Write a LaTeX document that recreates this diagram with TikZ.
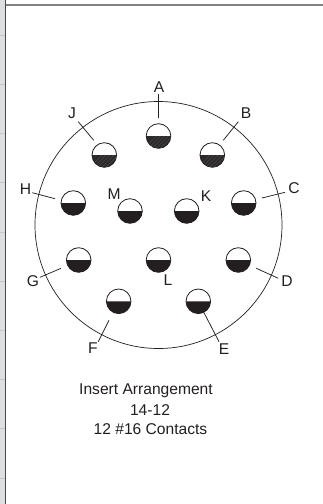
\documentclass[tikz,border=0pt]{standalone}
\usepackage{fontspec}
\setmainfont{Liberation Sans}
\definecolor{ink}{HTML}{231F20}
\definecolor{hatchink}{HTML}{2B292A}
\definecolor{hatchline}{HTML}{4A4849}
\definecolor{sidebar}{HTML}{DDDEE0}
\definecolor{sidetick}{HTML}{C6C7CA}
\definecolor{framegray}{HTML}{808285}
\definecolor{framedark}{HTML}{47484A}
\tikzset{
  lead/.style={draw=ink,line width=0.75pt},
  lab/.style={text=ink,font=\fontsize{15.6}{18}\selectfont,inner sep=0pt,anchor=center},
  note/.style={text=ink,font=\fontsize{15.6}{18}\selectfont,inner sep=0pt,anchor=center}
}
\newcommand{\contact}[4]{%
  \coordinate (#1) at (#2,#3);
  \fill[#4] ([xshift=-12.3pt]#1) arc[start angle=180,end angle=360,radius=12.3pt] -- cycle;
  \draw[ink,line width=0.8pt] (#1) circle[radius=12.3pt];
}
\newcommand{\hatched}[1]{%
  \begin{scope}
    \clip ([xshift=-12.3pt]#1) arc[start angle=180,end angle=360,radius=12.3pt] -- cycle;
    \foreach \d in {-16,-12,...,16}
      \draw[hatchline,line width=0.5pt] ([xshift=\d pt,yshift=-14pt]#1) -- ([xshift=\d pt + 14pt,yshift=0pt]#1);
  \end{scope}%
}
\begin{document}
\begin{tikzpicture}[x=1pt,y=-1pt]
\useasboundingbox (0,0) rectangle (323,504);
\fill[white] (0,0) rectangle (323,504);
\fill[sidebar] (0,0) rectangle (5,504);
\foreach \t in {35,84,133,182,232,281,330,379,428,478}
  \draw[sidetick,line width=0.6pt] (0,\t) -- (5,\t);
\draw[framegray,line width=1.5pt] (5,4.8) -- (323,4.8);
\draw[framedark,line width=1.3pt] (5.5,0) -- (5.5,504);
\draw[ink,line width=0.7pt] (158.5,225) circle[radius=123.5];
\contact{pA}{158.5}{136}{hatchink}
\contact{pJ}{104.3}{155}{hatchink}
\contact{pB}{212.3}{155}{hatchink}
\hatched{pA}\hatched{pJ}\hatched{pB}
\contact{pH}{73.3}{203}{ink}
\contact{pM}{130}{211}{ink}
\contact{pK}{186.7}{211}{ink}
\contact{pC}{243.7}{203}{ink}
\contact{pG}{78.7}{260}{ink}
\contact{pL}{158.5}{260}{ink}
\contact{pD}{238.3}{260}{ink}
\contact{pF}{118.7}{301.3}{ink}
\contact{pE}{198.3}{301.3}{ink}
\node[lab] (lA) at (159,87) {A};
\node[lab] (lJ) at (72,113) {J};
\node[lab] (lB) at (246,113) {B};
\node[lab] (lH) at (25.5,189) {H};
\node[lab] (lM) at (114,194) {M};
\node[lab] (lK) at (206,196) {K};
\node[lab] (lC) at (294,188) {C};
\node[lab] (lG) at (33,281) {G};
\node[lab] (lL) at (168,280) {L};
\node[lab] (lD) at (287,281) {D};
\node[lab] (lF) at (93,348) {F};
\node[lab] (lE) at (224,349) {E};
\coordinate (aA) at (158.5,94); \coordinate (bA) at (158.5,118);
\coordinate (aJ) at (78.3,121.7); \coordinate (bJ) at (93.7,140.3);
\coordinate (aB) at (238.3,121.7); \coordinate (bB) at (223.3,140.3);
\coordinate (aH) at (32.3,192.7); \coordinate (bH) at (55,198.7);
\coordinate (aC) at (285,192.3); \coordinate (bC) at (262,198);
\coordinate (aG) at (40,277.3); \coordinate (bG) at (61,268.3);
\coordinate (aD) at (278.3,278.3); \coordinate (bD) at (256.3,268.3);
\coordinate (aF) at (98.3,341.7); \coordinate (bF) at (109,320.3);
\coordinate (aE) at (219,341.7); \coordinate (bE) at (204,312.7);
\foreach \n in {A,J,B,H,C,G,D,F,E}
  \draw[lead] (a\n) -- (b\n);
\node[note] (n1) at (146,390.7) {Insert Arrangement};
\node[note] (n2) at (150,410.5) {14-12};
\node[note] (n3) at (150.5,429) {12 \#16 Contacts};
\end{tikzpicture}
\end{document}
